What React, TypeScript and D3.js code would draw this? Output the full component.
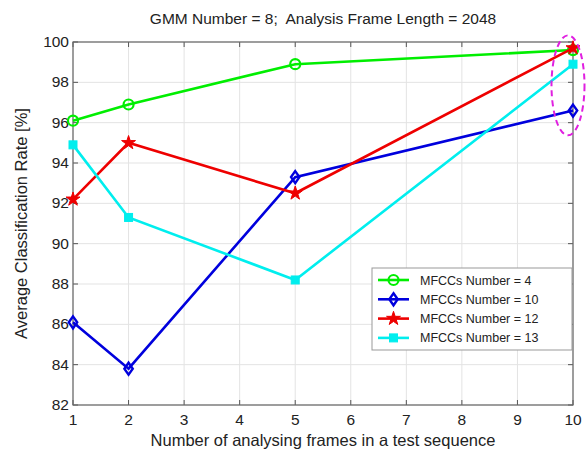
import React from "react";
import * as d3 from "d3";

const xValues = [1, 2, 5, 10];
const mfcc4 = [96.1, 96.9, 98.9, 99.6];
const mfcc10 = [86.1, 83.8, 93.3, 96.6];
const mfcc12 = [92.2, 95.0, 92.5, 99.7];
const mfcc13 = [94.9, 91.3, 88.2, 98.9];
const seriesNames = ["MFCCs Number = 4", "MFCCs Number = 10", "MFCCs Number = 12", "MFCCs Number = 13"];
const xTicks = [1, 2, 3, 4, 5, 6, 7, 8, 9, 10];
const yTicks = [82, 84, 86, 88, 90, 92, 94, 96, 98, 100];

const W = 587, H = 454;
const L = 73, R = 573, T = 42, B = 405;
const font = "'Liberation Sans', Arial, Helvetica, sans-serif";

const x = d3.scaleLinear().domain([1, 10]).range([L, R]);
const y = d3.scaleLinear().domain([82, 100]).range([B, T]);

const series = [
  { name: seriesNames[0], values: mfcc4, color: "#00ee00", marker: "circle" },
  { name: seriesNames[1], values: mfcc10, color: "#0000dd", marker: "diamond" },
  { name: seriesNames[2], values: mfcc12, color: "#ee0000", marker: "star" },
  { name: seriesNames[3], values: mfcc13, color: "#00eeee", marker: "square" },
];

function Marker({ type, cx, cy, color }: { type: string; cx: number; cy: number; color: string }) {
  if (type === "circle") return <circle cx={cx} cy={cy} r={5} fill="none" stroke={color} strokeWidth={2.2} />;
  if (type === "diamond") {
    const s = 6;
    return <path d={`M${cx},${cy - s}L${cx + s * 0.7},${cy}L${cx},${cy + s}L${cx - s * 0.7},${cy}Z`} fill="none" stroke={color} strokeWidth={2.4} />;
  }
  if (type === "star") {
    const sym = d3.symbol().type(d3.symbolStar).size(60)();
    return <path d={sym || ""} transform={`translate(${cx},${cy})`} fill={color} stroke={color} strokeWidth={1} />;
  }
  return <rect x={cx - 4} y={cy - 4} width={8} height={8} fill={color} stroke={color} />;
}

export default function App() {
  const line = d3.line<number>().x((_, i) => x(xValues[i])).y((v) => y(v));
  const legX = 372, legY = 268, legW = 200, legH = 82;
  return (
    <svg width={W} height={H} style={{ position: "absolute", left: 0, top: 0, background: "#fff" }}>
      <rect x={0} y={0} width={W} height={H} fill="#fff" />
      {/* grid */}
      {xTicks.map((t) => (
        <line key={"gx" + t} x1={x(t)} x2={x(t)} y1={T} y2={B} stroke="#e3e3e3" strokeWidth={1} />
      ))}
      {yTicks.map((t) => (
        <line key={"gy" + t} x1={L} x2={R} y1={y(t)} y2={y(t)} stroke="#e3e3e3" strokeWidth={1} />
      ))}
      {/* ticks inward */}
      {xTicks.map((t) => (
        <g key={"tx" + t}>
          <line x1={x(t)} x2={x(t)} y1={B} y2={B - 5} stroke="#555" />
          <line x1={x(t)} x2={x(t)} y1={T} y2={T + 5} stroke="#555" />
          <text x={x(t)} y={B + 20} textAnchor="middle" fontFamily={font} fontSize={15.5} fill="#222">{t}</text>
        </g>
      ))}
      {yTicks.map((t) => (
        <g key={"ty" + t}>
          <line x1={L} x2={L + 5} y1={y(t)} y2={y(t)} stroke="#555" />
          <line x1={R} x2={R - 5} y1={y(t)} y2={y(t)} stroke="#555" />
          <text x={L - 4} y={y(t) + 5} textAnchor="end" fontFamily={font} fontSize={15.5} fill="#222">{t}</text>
        </g>
      ))}
      <rect x={L} y={T} width={R - L} height={B - T} fill="none" stroke="#666" strokeWidth={1.2} />
      {/* lines */}
      {series.map((s) => (
        <g key={s.name}>
          <path d={line(s.values) || ""} fill="none" stroke={s.color} strokeWidth={2.6} />
          {s.values.map((v, i) => (
            <Marker key={i} type={s.marker} cx={x(xValues[i])} cy={y(v)} color={s.color} />
          ))}
        </g>
      ))}
      {/* annotation ellipse */}
      <ellipse cx={x(9.91)} cy={y(97.85)} rx={16.5} ry={50} fill="none" stroke="#e020e0" strokeWidth={2} strokeDasharray="6,4" />
      {/* legend */}
      <rect x={legX} y={legY} width={legW} height={legH} fill="#fff" stroke="#999" strokeWidth={1} />
      {series.map((s, i) => {
        const ly = legY + 12 + i * 19.3;
        return (
          <g key={"leg" + i}>
            <line x1={legX + 6} x2={legX + 37} y1={ly} y2={ly} stroke={s.color} strokeWidth={2.6} />
            <Marker type={s.marker} cx={legX + 21.5} cy={ly} color={s.color} />
            <text x={legX + 48} y={ly + 4.5} fontFamily={font} fontSize={12.5} fill="#222">{s.name}</text>
          </g>
        );
      })}
      {/* title and labels */}
      <text x={323} y={24} textAnchor="middle" fontFamily={font} fontSize={15.5} fill="#222">{"GMM Number = 8;\u00a0 Analysis Frame Length = 2048"}</text>
      <text x={323} y={446} textAnchor="middle" fontFamily={font} fontSize={16.5} fill="#222">Number of analysing frames in a test sequence</text>
      <text transform={`translate(27,${(T + B) / 2}) rotate(-90)`} textAnchor="middle" fontFamily={font} fontSize={16.5} fill="#222">Average Classification Rate [%]</text>
    </svg>
  );
}
